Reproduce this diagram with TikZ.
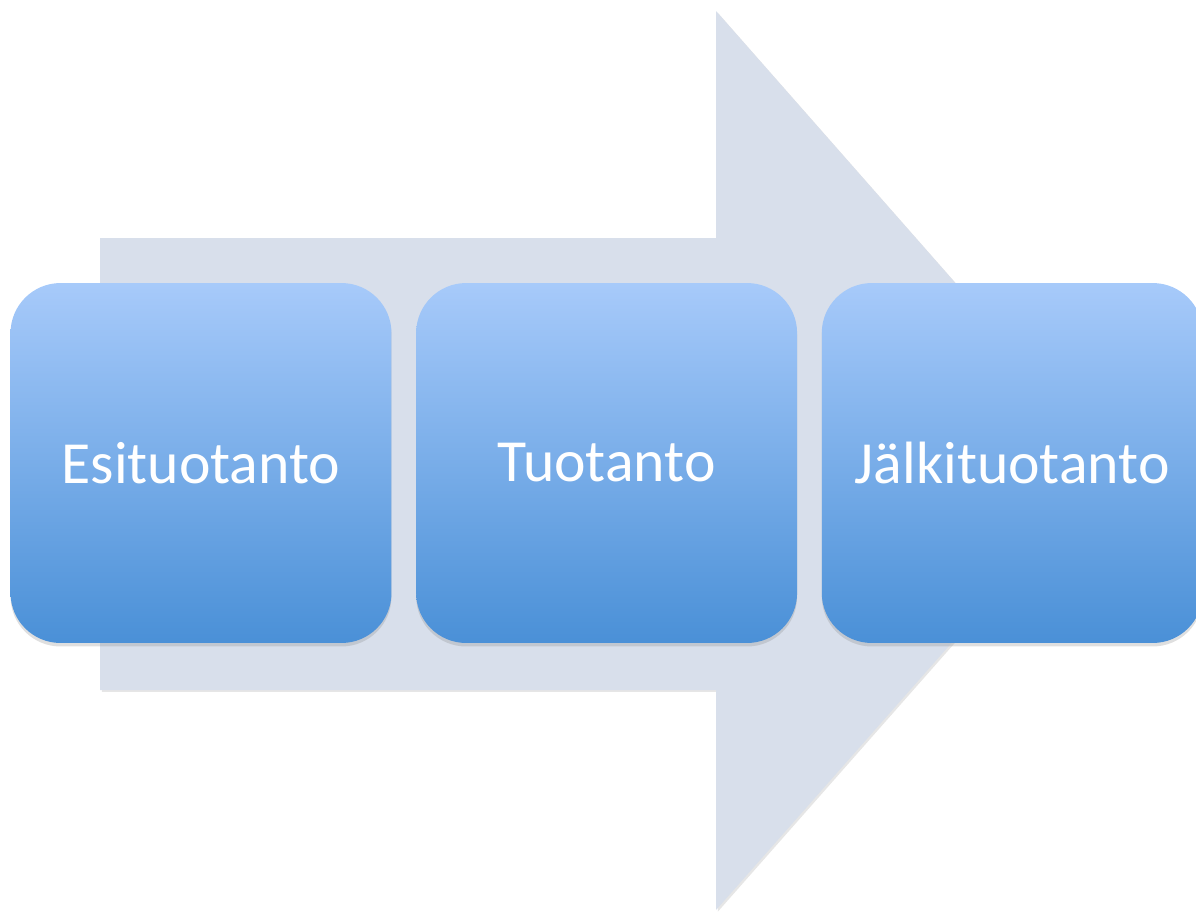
\documentclass[tikz,border=0pt]{standalone}
\usepackage{fontspec}
\setmainfont{Carlito}
\usepackage{xcolor}
\usetikzlibrary{positioning,shadows}

\definecolor{arrowfill}{RGB}{216,223,235}
\definecolor{boxtop}{RGB}{167,202,250}
\definecolor{boxbot}{RGB}{74,144,215}

\begin{document}
\begin{tikzpicture}[
  x=0.02cm, y=-0.02cm,
  font=\fontsize{34pt}{40pt}\selectfont,
  phase/.style={rounded corners=1cm, minimum width=7.62cm, minimum height=7.2cm,
    top color=boxtop, bottom color=boxbot, text=white, inner sep=0pt,
    drop shadow={opacity=0.25, shadow xshift=0pt, shadow yshift=-2pt}},
  bigarrow/.style={fill=arrowfill, drop shadow={opacity=0.2, shadow xshift=1pt, shadow yshift=-1pt}},
  node distance=0.48cm
]
\useasboundingbox (0,0) rectangle (1196,913);

% ---------- Background arrow ----------
\fill[bigarrow] (100,238) -- (716,238) -- (716,11) -- (1112,461)
  -- (716,910) -- (716,690) -- (100,690) -- cycle;

% ---------- Phases ----------
\node[phase] (pre) at (201,463) {Esituotanto};
\node[phase, right=of pre] (prod) {Tuotanto};
\node[phase, right=of prod] (post) {Jälkituotanto};

\end{tikzpicture}
\end{document}
